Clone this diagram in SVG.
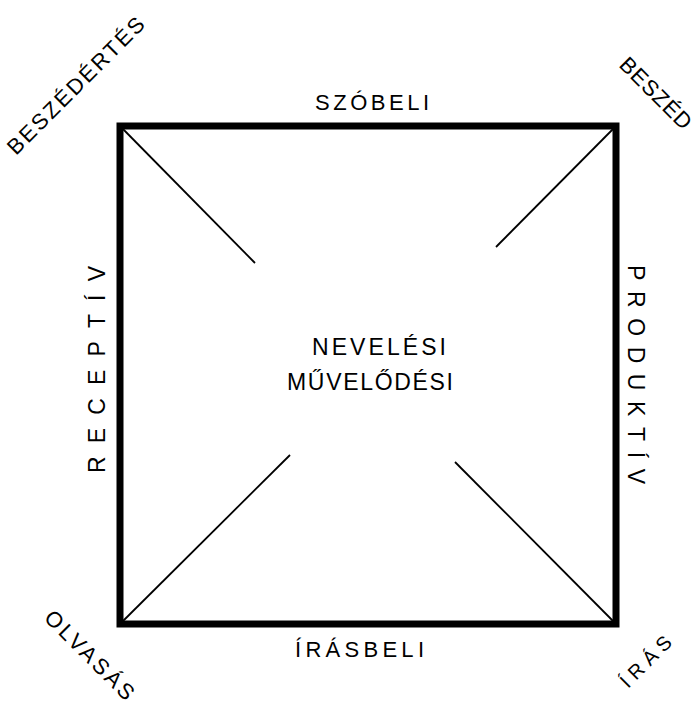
<svg xmlns="http://www.w3.org/2000/svg" width="697" height="710" viewBox="0 0 697 710">
<style>
  .lbl { font-family: "Liberation Sans", Arial, sans-serif; fill: #000; font-size: 22px; }
  .big { font-size: 23px; }
  .corner { font-size: 22px; }
  .frame { fill: none; stroke: #000; stroke-width: 7; }
  .diag { stroke: #000; stroke-width: 1.8; fill: none; }
</style>
<rect width="697" height="710" fill="#fff"/>
<g id="square">
  <rect class="frame" x="120" y="126" width="496" height="498"/>
</g>
<g id="connectors">
  <line class="diag" x1="120" y1="126" x2="255" y2="263"/>
  <line class="diag" x1="616" y1="126" x2="496" y2="247"/>
  <line class="diag" x1="120" y1="624" x2="290" y2="455"/>
  <line class="diag" x1="616" y1="624" x2="455" y2="462"/>
</g>
<g id="center">
  <text class="lbl big" x="312" y="355" textLength="134" lengthAdjust="spacing">NEVELÉSI</text>
  <text class="lbl big" x="287" y="390" textLength="166" lengthAdjust="spacing">MŰVELŐDÉSI</text>
</g>
<g id="top">
  <text class="lbl" x="315" y="110" textLength="114" lengthAdjust="spacing">SZÓBELI</text>
</g>
<g id="bottom">
  <text class="lbl" x="295" y="657" textLength="129" lengthAdjust="spacing">ÍRÁSBELI</text>
</g>
<g id="left">
  <text class="lbl big" transform="translate(105,473) rotate(-90)" x="0" y="0" textLength="207" lengthAdjust="spacing">RECEPTÍV</text>
</g>
<g id="right">
  <text class="lbl big" transform="translate(628,265) rotate(90)" x="0" y="0" textLength="219" lengthAdjust="spacing">PRODUKTÍV</text>
</g>
<g id="corner-tl">
  <text class="lbl corner" transform="translate(16,156) rotate(-45)" x="0" y="0" textLength="184" lengthAdjust="spacing">BESZÉDÉRTÉS</text>
</g>
<g id="corner-tr">
  <text class="lbl corner" transform="translate(618,66) rotate(45)" x="0" y="0" textLength="92" lengthAdjust="spacing">BESZÉD</text>
</g>
<g id="corner-bl">
  <text class="lbl corner" transform="translate(43,619) rotate(45)" x="0" y="0" textLength="117" lengthAdjust="spacing">OLVASÁS</text>
</g>
<g id="corner-br">
  <text class="lbl" style="font-size:20px" transform="translate(628,689) rotate(-45)" x="0" y="0" textLength="64" lengthAdjust="spacing">ÍRÁS</text>
</g>
</svg>
